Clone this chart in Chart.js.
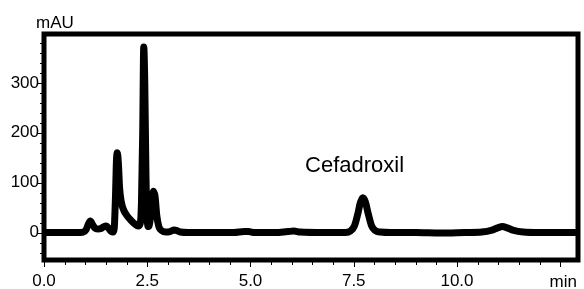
<!DOCTYPE html>
<html>
<head>
<meta charset="utf-8">
<script src="https://cdn.jsdelivr.net/npm/chart.js@4/dist/chart.umd.min.js"></script>
<style>
  body { margin: 0; background: #fff; }
</style>
</head>
<body>
<canvas id="myChart" width="584" height="289"></canvas>
<script>
// retention time (min) and detector signal (mAU)
var times = [0, 0.5, 0.8, 0.95, 1.02, 1.08, 1.12, 1.17, 1.23, 1.3, 1.38, 1.45, 1.51, 1.57, 1.63, 1.67,
  1.7, 1.73, 1.755, 1.775, 1.8, 1.83, 1.87, 1.93, 2.0, 2.1, 2.2, 2.28, 2.33, 2.36, 2.39, 2.415, 2.44,
  2.47, 2.5, 2.53, 2.57, 2.61, 2.65, 2.69, 2.73, 2.78, 2.85, 2.95, 3.05, 3.15, 3.22, 3.3, 3.5, 4.0,
  4.6, 4.85, 4.95, 5.1, 5.6, 5.9, 6.05, 6.2, 6.8, 7.3, 7.42, 7.52, 7.6, 7.66, 7.72, 7.78, 7.85, 7.93,
  8.02, 8.15, 8.4, 9.0, 9.6, 10.2, 10.6, 10.85, 11.0, 11.1, 11.2, 11.35, 11.6, 12.0, 12.5, 12.95];
var mau = [0, 0, 0, 1, 6, 18, 23, 17, 9, 7, 8, 12, 13, 8, 2, 1,
  8, 70, 145, 160, 140, 90, 62, 45, 35, 25, 17, 13, 18, 60, 200, 372, 300,
  110, 25, 12, 25, 62, 83, 72, 35, 12, 4, 1, 2, 5, 4, 1, 0, 0,
  0, 2, 2, 0, 0, 2, 3, 1, 0, 0, 3, 14, 38, 60, 70, 62, 38, 14,
  4, 1, 0, 0, -1, 0, 1, 5, 10, 12, 10, 5, 1, 0, 0, 0];

var xTicks = [0, 2.5, 5, 7.5, 10];
var yTicks = [0, 100, 200, 300];
var xUnit = 'min';
var yUnit = 'mAU';
var peakName = 'Cefadroxil';
var peakNameAt = [6.32, 121];

var points = [];
for (var i = 0; i < times.length; i++) {
  points.push({x: times[i], y: mau[i]});
}

var fontFamily = '"Liberation Sans", Arial, sans-serif';

// frame, tick marks and extra texts
var framePlugin = {
  id: 'frame',
  afterDraw: function (chart) {
    var ctx = chart.ctx;
    var a = chart.chartArea;
    var xs = chart.scales.x;
    var ys = chart.scales.y;
    ctx.save();
    ctx.strokeStyle = '#000';
    ctx.lineWidth = 5;
    ctx.strokeRect(a.left, a.top, a.right - a.left, a.bottom - a.top);

    ctx.lineWidth = 1;
    ctx.beginPath();
    for (var v = 0; v <= 12.5001; v += 0.5) {
      var px = Math.round(xs.getPixelForValue(v)) + 0.5;
      var len = (Math.abs(v % 2.5) < 0.001) ? 7 : 5;
      ctx.moveTo(px, a.bottom);
      ctx.lineTo(px, a.bottom + len);
    }
    for (var w = -40; w <= 380; w += 20) {
      var py = Math.round(ys.getPixelForValue(w)) + 0.5;
      var l = (w % 100 === 0) ? 6 : 4;
      ctx.moveTo(a.left, py);
      ctx.lineTo(a.left - l, py);
    }
    ctx.stroke();

    ctx.fillStyle = '#000';
    ctx.font = '17px ' + fontFamily;
    ctx.textBaseline = 'alphabetic';
    ctx.textAlign = 'left';
    ctx.fillText(yUnit, 36, 27.5);
    ctx.textAlign = 'right';
    ctx.fillText(xUnit, 577, 287);

    ctx.font = '22px ' + fontFamily;
    ctx.textAlign = 'left';
    ctx.fillText(peakName, xs.getPixelForValue(peakNameAt[0]), ys.getPixelForValue(peakNameAt[1]));
    ctx.restore();
  }
};

var myChart = new Chart(document.getElementById('myChart'), {
  type: 'line',
  data: {
    datasets: [{
      data: points,
      borderColor: '#000',
      borderWidth: 7,
      pointRadius: 0,
      fill: false,
      cubicInterpolationMode: 'monotone',
      borderJoinStyle: 'round',
      borderCapStyle: 'round'
    }]
  },
  options: {
    responsive: false,
    animation: false,
    layout: { padding: { left: 0, right: 6, top: 34, bottom: 0 } },
    plugins: {
      legend: { display: false },
      tooltip: { enabled: false }
    },
    scales: {
      x: {
        type: 'linear',
        min: 0,
        max: 12.93,
        grid: { display: false, drawTicks: false },
        border: { display: false },
        afterBuildTicks: function (scale) {
          scale.ticks = xTicks.map(function (v) { return {value: v}; });
        },
        afterFit: function (scale) { scale.height = 29; },
        ticks: {
          padding: 11,
          color: '#000',
          font: { family: fontFamily, size: 17 },
          maxRotation: 0,
          autoSkip: false,
          callback: function (v) { return v.toFixed(1); }
        }
      },
      y: {
        min: -55,
        max: 398,
        grid: { display: false, drawTicks: false },
        border: { display: false },
        afterBuildTicks: function (scale) {
          scale.ticks = yTicks.map(function (v) { return {value: v}; });
        },
        afterFit: function (scale) { scale.width = 44; },
        ticks: {
          padding: 5,
          color: '#000',
          font: { family: fontFamily, size: 17 }
        }
      }
    }
  },
  plugins: [framePlugin]
});
</script>
</body>
</html>
